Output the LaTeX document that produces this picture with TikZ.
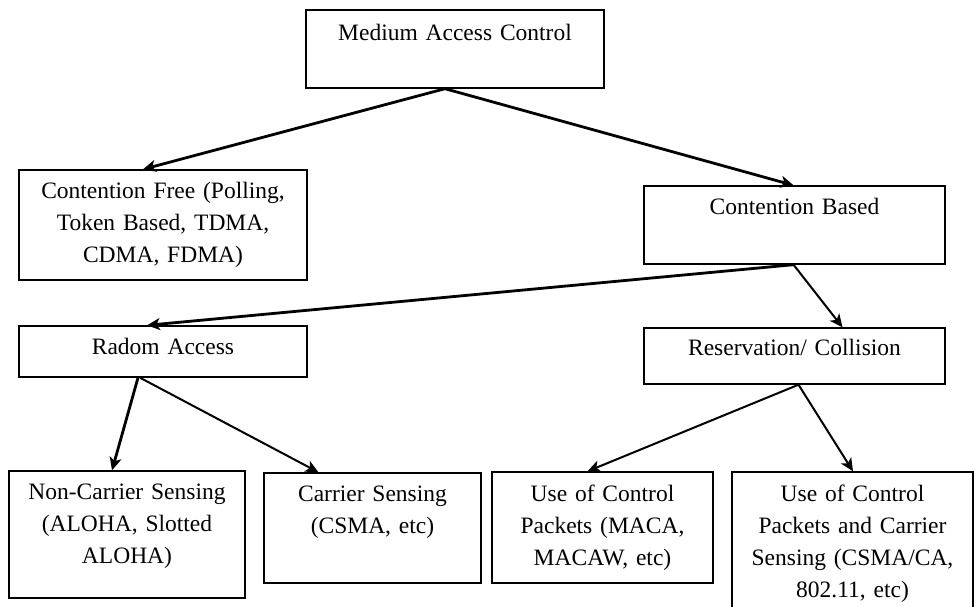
\documentclass[tikz,border=0pt]{standalone}
\usepackage{fontspec}
\setmainfont{Liberation Serif}
\usetikzlibrary{arrows.meta}
\begin{document}
\begin{tikzpicture}[x=1pt,y=-1pt,
  box/.style={draw=black, line width=1.4pt, rectangle, inner sep=0pt},
  lbl/.style={anchor=base, align=center, inner sep=0pt, text width=#1, font=\fontsize{23.5}{32}\selectfont},
  lbl/.default=280pt,
  thk/.style={line width=2.8pt, -{Stealth[length=13pt,width=12pt,inset=3.5pt]}},
  thn/.style={line width=2pt, -{Stealth[length=13pt,width=12pt,inset=3.5pt]}}]
\useasboundingbox (0,0) rectangle (974,606);
\clip (0,0) rectangle (974,606);
% boxes
\node[box, minimum width=298pt, minimum height=78pt] (mac) at (455,49) {};
\node[box, minimum width=288pt, minimum height=110pt] (cf) at (163,225) {};
\node[box, minimum width=301pt, minimum height=78pt] (cb) at (794.5,225) {};
\node[box, minimum width=301pt, minimum height=56pt] (res) at (794.5,356) {};
\node[box, minimum width=288pt, minimum height=51pt] (ra) at (163,351.5) {};
\node[box, minimum width=236pt, minimum height=127pt] (nc) at (127,534.5) {};
\node[box, minimum width=217pt, minimum height=110pt] (cs) at (372.5,528) {};
\node[box, minimum width=221pt, minimum height=111pt] (ucp) at (602.5,527.5) {};
\node[box, minimum width=241pt, minimum height=148pt] (ucpcs) at (852.5,546) {};
% labels
\node[lbl] (macT) at (455,40) {Medium Access Control};
\node[lbl] (cfT) at (163,198) {Contention Free (Polling,\\ Token Based, TDMA,\\ CDMA, FDMA)};
\node[lbl] (cbT) at (794.5,214) {Contention Based};
\node[lbl] (resT) at (794.5,355) {Reservation/ Collision};
\node[lbl] (raT) at (163,354) {Radom Access};
\node[lbl=230pt] (ncT) at (127,499) {Non-Carrier Sensing\\ (ALOHA, Slotted\\ ALOHA)};
\node[lbl=210pt] (csT) at (372.5,501) {Carrier Sensing\\ (CSMA, etc)};
\node[lbl=215pt] (ucpT) at (602.5,501) {Use of Control\\ Packets (MACA,\\ MACAW, etc)};
\node[lbl=235pt] (ucpcsT) at (852.5,501) {Use of Control\\ Packets and Carrier\\ Sensing (CSMA/CA,\\ 802.11, etc)};
% connectors
\draw[thk] ([xshift=-10pt]mac.south) -- ([xshift=-20pt]cf.north);
\draw[thk] ([xshift=-10pt]mac.south) -- ([xshift=-1pt]cb.north);
\draw[thk] ([xshift=-1pt]cb.south) -- ([xshift=-16pt]ra.north);
\draw[thn] ([xshift=-1pt]cb.south) -- ([xshift=48pt]res.north);
\draw[thk] ([xshift=-25pt]ra.south) -- ([xshift=-15pt]nc.north);
\draw[thn] ([xshift=-23pt]ra.south) -- ([xshift=-54pt]cs.north);
\draw[thn] ([xshift=4pt]res.south) -- ([xshift=-15pt]ucp.north);
\draw[thn] ([xshift=4pt]res.south) -- ([xshift=0.5pt]ucpcs.north);
\end{tikzpicture}
\end{document}
